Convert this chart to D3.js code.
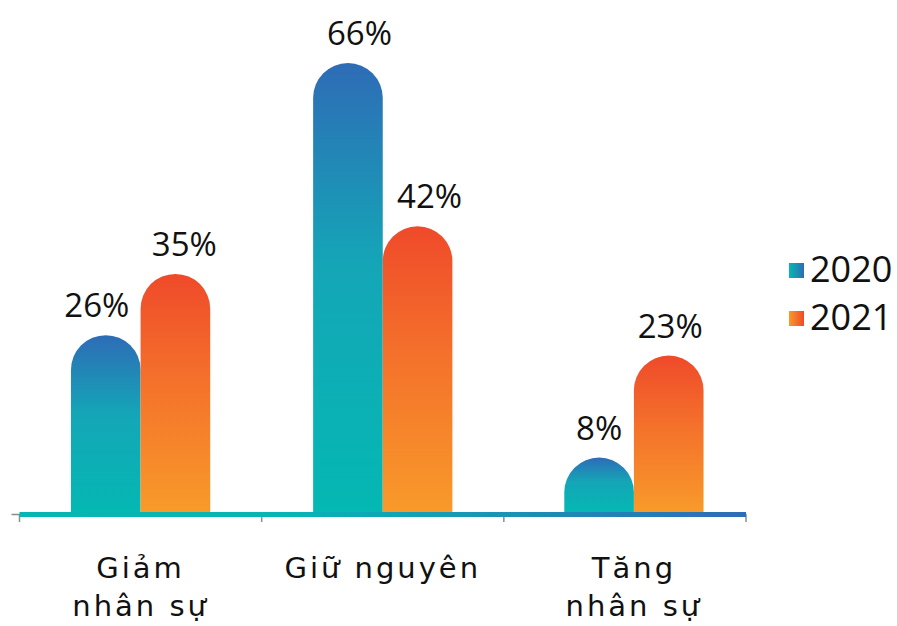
<!DOCTYPE html>
<html>
<head>
<meta charset="utf-8">
<script src="https://cdn.jsdelivr.net/npm/d3@7/dist/d3.min.js"></script>
<style>
  html, body { margin: 0; padding: 0; background: #fff; }
  svg { display: block; }
  text { font-family: "Open Sans", sans-serif; fill: #111; }
  text.cat { font-family: "DejaVu Sans", sans-serif; }
</style>
</head>
<body>
<svg id="chart" width="897" height="626"></svg>
<script>
// Data
const categories = ["Giảm\nnhân sự", "Giữ nguyên", "Tăng\nnhân sự"];
const series = ["2020", "2021"];
const values2020 = [26, 66, 8];
const values2021 = [35, 42, 23];
const valueLabels2020 = ["26%", "66%", "8%"];
const valueLabels2021 = ["35%", "42%", "23%"];

// Layout
const W = 897, H = 626;
const baseY = 512;
const axisLeft = 19.5, axisRight = 746;
const groupShift = [0, 0, 9];          // horizontal nudge per category group
const labelShift = [[-9, 9], [11.5, 12], [0, 1.5]]; // value label nudges [2020, 2021]

const svg = d3.select("#chart");
const defs = svg.append("defs");

const palettes = {
  "2020": { top: "#2e6cb6", mid: "#14a6b7", bottom: "#04b8b3" },
  "2021": { top: "#ef4a2a", mid: "#f4712b", bottom: "#f89a2a" }
};

// Vertical gradients for bars (per bar bounding box), horizontal for legend keys
series.forEach(s => {
  const g = defs.append("linearGradient")
    .attr("id", "bar-" + s)
    .attr("x1", 0).attr("y1", 1).attr("x2", 0).attr("y2", 0);
  g.append("stop").attr("offset", "0%").attr("stop-color", palettes[s].bottom);
  g.append("stop").attr("offset", "55%").attr("stop-color", palettes[s].mid);
  g.append("stop").attr("offset", "100%").attr("stop-color", palettes[s].top);

  const lg = defs.append("linearGradient")
    .attr("id", "legend-" + s)
    .attr("x1", 0).attr("y1", 0).attr("x2", 1).attr("y2", 0);
  lg.append("stop").attr("offset", "0%").attr("stop-color", palettes[s].bottom);
  lg.append("stop").attr("offset", "100%").attr("stop-color", palettes[s].top);
});

// Baseline gradient
const bl = defs.append("linearGradient")
  .attr("id", "baseline")
  .attr("gradientUnits", "userSpaceOnUse")
  .attr("x1", axisLeft).attr("y1", 0).attr("x2", axisRight).attr("y2", 0);
bl.append("stop").attr("offset", "0%").attr("stop-color", "#05b7b3");
bl.append("stop").attr("offset", "38%").attr("stop-color", "#08b4b5");
bl.append("stop").attr("offset", "100%").attr("stop-color", "#2d6cb7");

// Scales
const x0 = d3.scaleBand().domain(categories).range([axisLeft, axisRight]).padding(0);
const groupW = x0.bandwidth() * 0.575;
const x1 = d3.scaleBand().domain(series).range([0, groupW]).padding(0);
const y = d3.scaleLinear().domain([0, 75]).range([baseY, 1.8]);

const rows = categories.map((c, i) => ({
  cat: c, i,
  bars: [
    { s: "2020", v: values2020[i], label: valueLabels2020[i], dx: labelShift[i][0] },
    { s: "2021", v: values2021[i], label: valueLabels2021[i], dx: labelShift[i][1] }
  ]
}));

// Grey axis line with ticks at category boundaries
const axisG = svg.append("g");
axisG.append("line")
  .attr("x1", axisLeft - 8).attr("x2", axisRight)
  .attr("y1", baseY + 2.5).attr("y2", baseY + 2.5)
  .attr("stroke", "#8c8c8c").attr("stroke-width", 1.5);
const tickXs = categories.map(c => x0(c)).concat([axisRight]);
axisG.selectAll("line.tick").data(tickXs).join("line")
  .attr("class", "tick")
  .attr("x1", d => d).attr("x2", d => d)
  .attr("y1", baseY + 2).attr("y2", baseY + 10)
  .attr("stroke", "#8c8c8c").attr("stroke-width", 1.5);

// Bars with rounded tops
function barPath(x, w, top, base) {
  const r = w / 2;
  const yr = Math.min(top + r, base);
  return `M${x},${base}L${x},${yr}A${r},${r} 0 0 1 ${x + w},${yr}L${x + w},${base}Z`;
}

const groups = svg.selectAll("g.group").data(rows).join("g")
  .attr("class", "group")
  .attr("transform", d => `translate(${x0(d.cat) + (x0.bandwidth() - groupW) / 2 + groupShift[d.i]},0)`);

groups.selectAll("path.bar").data(d => d.bars).join("path")
  .attr("class", "bar")
  .attr("d", d => barPath(x1(d.s), x1.bandwidth(), y(d.v), baseY))
  .attr("fill", d => `url(#bar-${d.s})`);

groups.selectAll("text.value").data(d => d.bars).join("text")
  .attr("class", "value")
  .attr("x", d => x1(d.s) + x1.bandwidth() / 2 + d.dx)
  .attr("y", d => y(d.v) - 18)
  .attr("text-anchor", "middle")
  .attr("font-size", 33)
  .text(d => d.label);

// Coloured baseline over the bars' feet
svg.append("rect")
  .attr("x", axisLeft).attr("y", baseY)
  .attr("width", axisRight - axisLeft).attr("height", 5)
  .attr("fill", "url(#baseline)");

// Category labels, one text per line
const lineH = 38;
const catLines = rows.flatMap(r => r.cat.split("\n").map((t, k) => ({ t, k, r })));
svg.selectAll("text.cat").data(catLines).join("text")
  .attr("class", "cat")
  .attr("text-anchor", "middle")
  .attr("font-size", 29)
  .attr("letter-spacing", 3)
  .attr("x", d => x0(d.r.cat) + x0.bandwidth() / 2 + groupShift[d.r.i])
  .attr("y", d => 578 + d.k * lineH)
  .text(d => d.t);

// Legend
const legend = svg.append("g").attr("transform", "translate(789,263)");
const li = legend.selectAll("g").data(series).join("g")
  .attr("transform", (d, i) => `translate(0,${i * 48})`);
li.append("rect").attr("width", 15).attr("height", 15)
  .attr("fill", d => `url(#legend-${d})`);
li.append("text").attr("x", 21).attr("y", 18.5)
  .attr("font-size", 36)
  .text(d => d);
</script>
</body>
</html>
